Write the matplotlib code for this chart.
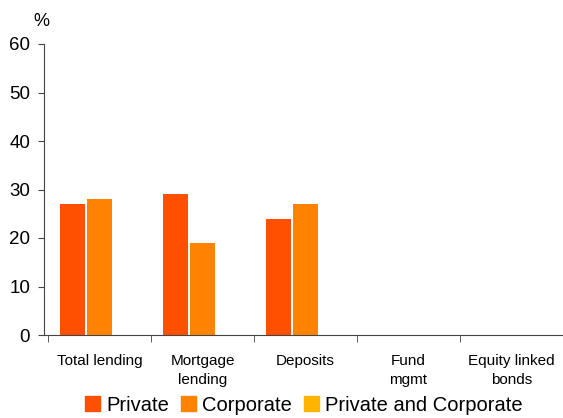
import numpy as np
import matplotlib.pyplot as plt
from matplotlib.patches import Patch

plt.rcParams['font.family'] = ['Liberation Sans', 'DejaVu Sans']

categories = ['Total lending', 'Mortgage\nlending', 'Deposits', 'Fund\nmgmt', 'Equity linked\nbonds']
private = [27, 29, 24, 0, 0]
corporate = [28, 19, 27, 0, 0]
private_and_corporate = [0, 0, 0, 0, 0]

colors = ['#FF4F00', '#FF8200', '#FFB400']
series = [('Private', private), ('Corporate', corporate),
          ('Private and Corporate', private_and_corporate)]

fig = plt.figure(figsize=(5.63, 4.18), dpi=100)
ax = fig.add_axes([44 / 563, 83 / 418, 519 / 563, 291 / 418])

x = np.arange(len(categories))
width = 0.245
offsets = [-0.262, 0.0, 0.262]
for (name, vals), off, c in zip(series, offsets, colors):
    vals = np.array(vals, dtype=float)
    mask = vals > 0
    ax.bar(x[mask] + off, vals[mask], width=width, color=c, label=name)

ax.set_xlim(-0.539, 4.5)
ax.set_ylim(0, 60)
ax.set_yticks(range(0, 61, 10))
ax.set_xticks(x)
ax.set_xticklabels(categories, fontsize=11, linespacing=1.45)
ax.set_xticks(np.arange(-0.5, 4.6, 1.0), minor=True)
ax.tick_params(axis='x', which='major', length=0, pad=14)
ax.tick_params(axis='x', which='minor', length=5, direction='out', color='#444444')
ax.tick_params(axis='y', length=4, direction='out', labelsize=13.5, pad=6, color='#444444')

for s in ['top', 'right']:
    ax.spines[s].set_visible(False)
for s in ['left', 'bottom']:
    ax.spines[s].set_color('#444444')

fig.text(41 / 563, 1 - 21 / 418, '%', fontsize=13, ha='center', va='center')

handles = [Patch(color=c, label=n) for (n, _), c in zip(series, colors)]
fig.legend(handles=handles, loc='lower center', bbox_to_anchor=(0.54, -0.035), ncol=3,
           frameon=False, fontsize=14.5, handlelength=0.75, handleheight=0.75,
           handletextpad=0.3, columnspacing=0.6)

fig.savefig('out.png', dpi=100)
